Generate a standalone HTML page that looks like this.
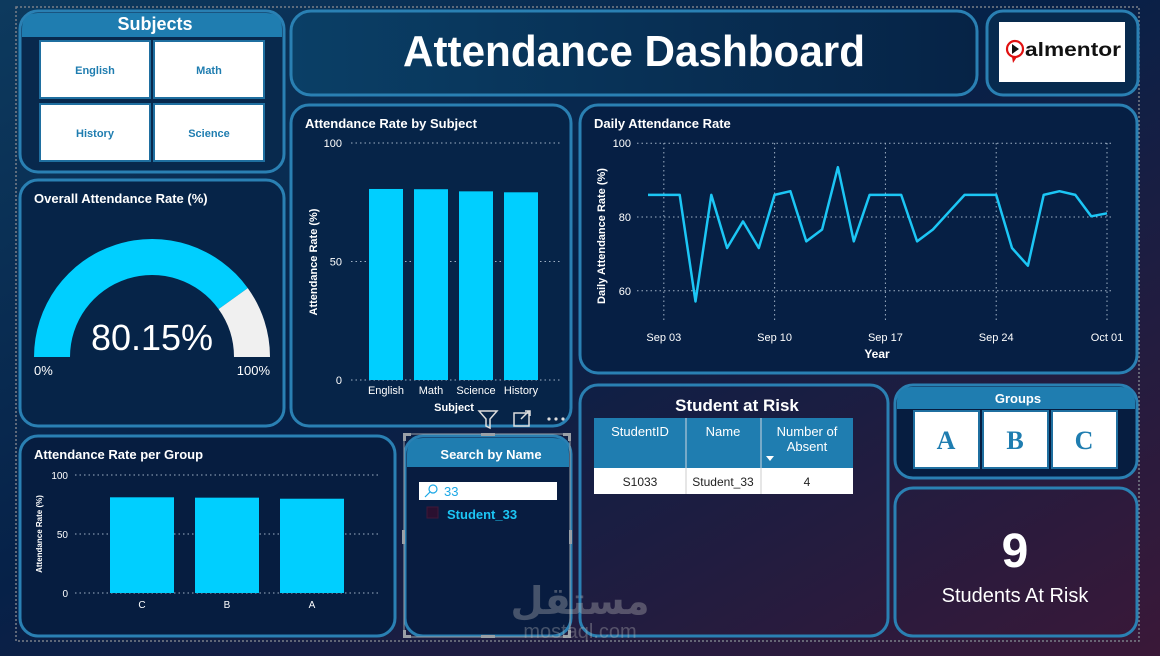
<!DOCTYPE html>
<html><head><meta charset="utf-8">
<style>
html,body{margin:0;padding:0;width:1160px;height:656px;overflow:hidden;background:#0b2545;}
svg{display:block;font-family:"Liberation Sans","DejaVu Sans",sans-serif;}
</style></head>
<body>
<svg id="dash" width="1160" height="656" viewBox="0 0 1160 656" xmlns="http://www.w3.org/2000/svg">
<defs>
<linearGradient id="bg" x1="0" y1="0" x2="1" y2="1">
<stop offset="0" stop-color="#0d3a5e"/><stop offset="0.45" stop-color="#062148"/><stop offset="1" stop-color="#3a1838"/>
</linearGradient>
<linearGradient id="title-bg" x1="0" y1="0" x2="1" y2="0">
<stop offset="0" stop-color="#0a3f66"/><stop offset="1" stop-color="#062346"/>
</linearGradient>
</defs>
<rect width="1160" height="656" fill="url(#bg)"/>
<rect x="16" y="7" width="1123" height="634" fill="none" stroke="#7a7f88" stroke-width="1.5" stroke-dasharray="2,2"/>

<!-- Subjects slicer -->
<g>
<rect x="20" y="11" width="264" height="161" rx="18" fill="#08294d" stroke="#2a80b3" stroke-width="3"/>
<path d="M22 37 V29 Q22 13 38 13 H266 Q282 13 282 29 V37 Z" fill="#1f7db0"/>
<text x="155" y="30" fill="#fff" font-size="18" font-weight="bold" text-anchor="middle">Subjects</text>
<g><rect x="40" y="41" width="110" height="57" fill="#fff" stroke="#1f6fa0" stroke-width="2"/><text x="95" y="74" fill="#1f7db0" font-size="11" font-weight="bold" text-anchor="middle">English</text></g>
<g><rect x="154" y="41" width="110" height="57" fill="#fff" stroke="#1f6fa0" stroke-width="2"/><text x="209" y="74" fill="#1f7db0" font-size="11" font-weight="bold" text-anchor="middle">Math</text></g>
<g><rect x="40" y="104" width="110" height="57" fill="#fff" stroke="#1f6fa0" stroke-width="2"/><text x="95" y="137" fill="#1f7db0" font-size="11" font-weight="bold" text-anchor="middle">History</text></g>
<g><rect x="154" y="104" width="110" height="57" fill="#fff" stroke="#1f6fa0" stroke-width="2"/><text x="209" y="137" fill="#1f7db0" font-size="11" font-weight="bold" text-anchor="middle">Science</text></g>
</g>

<!-- Title -->
<g>
<rect x="291" y="11" width="686" height="84" rx="20" fill="url(#title-bg)" stroke="#2a80b3" stroke-width="3"/>
<text x="634" y="66" fill="#fff" font-size="44" font-weight="bold" text-anchor="middle" textLength="462" lengthAdjust="spacingAndGlyphs">Attendance Dashboard</text>
</g>

<!-- Logo -->
<g>
<rect x="987" y="11" width="151" height="84" rx="16" fill="#072a4e" stroke="#2a80b3" stroke-width="3"/>
<rect x="999" y="22" width="126" height="60" fill="#fff"/>
<circle cx="1015" cy="49" r="8" fill="none" stroke="#e01010" stroke-width="2.2"/>
<path d="M1012 57 L1013 63 L1017 57 Z" fill="#e01010"/>
<path d="M1012 44 L1019 49 L1012 54 Z" fill="#111"/>
<text x="1025" y="56" fill="#111" font-size="19" font-weight="bold" textLength="96" lengthAdjust="spacingAndGlyphs">almentor</text>
</g>

<!-- Gauge -->
<g>
<rect x="20" y="180" width="264" height="246" rx="18" fill="#062448" stroke="#2a80b3" stroke-width="3"/>
<text x="34" y="203" fill="#fff" font-size="13" font-weight="bold">Overall Attendance Rate (%)</text>
<g id="gauge"></g>
<text x="34" y="375" fill="#fff" font-size="13">0%</text>
<text x="270" y="375" fill="#fff" font-size="13" text-anchor="end">100%</text>
</g>

<!-- Subject bar chart -->
<g>
<rect x="291" y="105" width="280" height="321" rx="18" fill="#062448" stroke="#2a80b3" stroke-width="3"/>
<text x="305" y="128" fill="#fff" font-size="13" font-weight="bold">Attendance Rate by Subject</text>
<g id="subj"></g>
<text transform="translate(317,262) rotate(-90)" fill="#fff" font-size="11" font-weight="bold" text-anchor="middle">Attendance Rate (%)</text>
<text x="454" y="411" fill="#fff" font-size="11" font-weight="bold" text-anchor="middle">Subject</text>
<g><path d="M479 411 H497 L490 419 V428 L486 426 V419 Z" fill="none" stroke="#ddd" stroke-width="1.5"/></g>
<g><rect x="514" y="413" width="15" height="13" fill="none" stroke="#ddd" stroke-width="1.5"/><path d="M521 419 L529 411 M525 411 H530 V416" fill="none" stroke="#ddd" stroke-width="1.5"/></g>
<g><circle cx="549" cy="419" r="1.6" fill="#ddd"/><circle cx="556" cy="419" r="1.6" fill="#ddd"/><circle cx="563" cy="419" r="1.6" fill="#ddd"/></g>
</g>

<!-- Daily line chart -->
<g>
<rect x="580" y="105" width="557" height="268" rx="18" fill="#061f44" stroke="#2a80b3" stroke-width="3"/>
<text x="594" y="128" fill="#fff" font-size="13" font-weight="bold">Daily Attendance Rate</text>
<g id="daily"></g>
<text transform="translate(605,236) rotate(-90)" fill="#fff" font-size="11" font-weight="bold" text-anchor="middle">Daily Attendance Rate (%)</text>
<text x="877" y="358" fill="#fff" font-size="12" font-weight="bold" text-anchor="middle">Year</text>
</g>

<!-- Group bar chart -->
<g>
<rect x="20" y="436" width="375" height="200" rx="18" fill="#061d40" stroke="#2a80b3" stroke-width="3"/>
<text x="34" y="459" fill="#fff" font-size="13" font-weight="bold">Attendance Rate per Group</text>
<g id="grp"></g>
<text transform="translate(42,534) rotate(-90)" fill="#fff" font-size="8" font-weight="bold" text-anchor="middle">Attendance Rate (%)</text>
</g>

<!-- Search slicer -->
<g>
<rect x="405" y="436" width="166" height="200" rx="18" fill="#081c40" stroke="#2a80b3" stroke-width="3"/>
<path d="M407 467 V454 Q407 438 423 438 H553 Q569 438 569 454 V467 Z" fill="#1f7db0"/>
<text x="491" y="459" fill="#fff" font-size="13" font-weight="bold" text-anchor="middle">Search by Name</text>
<g>
<rect x="419" y="482" width="138" height="18" fill="#fff"/>
<circle cx="433" cy="489" r="4" fill="none" stroke="#1aa7e6" stroke-width="1.2"/><path d="M430 492 L425 497" stroke="#1aa7e6" stroke-width="1.2"/>
<text x="444" y="496" fill="#1aa7e6" font-size="13">33</text>
</g>
<g>
<rect x="427" y="507" width="11" height="11" fill="#2a1030" stroke="#401838"/>
<text x="447" y="519" fill="#1cc6f5" font-size="13" font-weight="bold">Student_33</text>
</g>
<g fill="#9aa0a6">
<rect x="403" y="433" width="3" height="8"/><rect x="403" y="433" width="8" height="3"/>
<rect x="568" y="433" width="3" height="8"/><rect x="563" y="433" width="8" height="3"/>
<rect x="403" y="630" width="3" height="8"/><rect x="403" y="635" width="8" height="3"/>
<rect x="568" y="630" width="3" height="8"/><rect x="563" y="635" width="8" height="3"/>
<rect x="481" y="433" width="14" height="3"/><rect x="481" y="635" width="14" height="3"/>
<rect x="402" y="530" width="3" height="14"/><rect x="569" y="530" width="3" height="14"/>
<path d="M404 434 H570 V637 H404 Z" fill="none" stroke="#9aa0a6" stroke-width="1"/>
</g>
</g>

<!-- Student at risk table -->
<g>
<rect x="580" y="385" width="308" height="251" rx="18" fill="none" stroke="#2a80b3" stroke-width="3"/>
<text x="737" y="411" fill="#fff" font-size="17" font-weight="bold" text-anchor="middle">Student at Risk</text>
<rect x="594" y="418" width="259" height="50" fill="#1f7db0"/>
<line x1="686" y1="418" x2="686" y2="494" stroke="#cfd8e0"/><line x1="761" y1="418" x2="761" y2="494" stroke="#cfd8e0"/>
<text x="640" y="436" fill="#fff" font-size="13" text-anchor="middle">StudentID</text>
<text x="723" y="436" fill="#fff" font-size="13" text-anchor="middle">Name</text>
<g><text x="807" y="436" fill="#fff" font-size="13" text-anchor="middle">Number of</text><text x="807" y="451" fill="#fff" font-size="13" text-anchor="middle">Absent</text><path d="M766 456 H774 L770 461 Z" fill="#fff"/></g>
<rect x="594" y="468" width="259" height="26" fill="#fff"/>
<line x1="686" y1="468" x2="686" y2="494" stroke="#ccc"/><line x1="761" y1="468" x2="761" y2="494" stroke="#ccc"/>
<text x="640" y="486" fill="#222" font-size="12" text-anchor="middle">S1033</text>
<text x="723" y="486" fill="#222" font-size="12" text-anchor="middle">Student_33</text>
<text x="807" y="486" fill="#222" font-size="12" text-anchor="middle">4</text>
</g>

<!-- Groups slicer -->
<g>
<rect x="895" y="385" width="242" height="93" rx="18" fill="#061d40" stroke="#2a80b3" stroke-width="3"/>
<path d="M897 409 V401 Q897 387 911 387 H1121 Q1135 387 1135 401 V409 Z" fill="#1f7db0"/>
<text x="1018" y="403" fill="#fff" font-size="13" font-weight="bold" text-anchor="middle">Groups</text>
<g><rect x="914" y="411" width="65" height="57" fill="#fff" stroke="#1f6fa0" stroke-width="2"/><text x="946" y="449" fill="#1f7db0" font-size="26" font-weight="bold" text-anchor="middle" font-family="Liberation Serif,serif">A</text></g>
<g><rect x="983" y="411" width="65" height="57" fill="#fff" stroke="#1f6fa0" stroke-width="2"/><text x="1015" y="449" fill="#1f7db0" font-size="26" font-weight="bold" text-anchor="middle" font-family="Liberation Serif,serif">B</text></g>
<g><rect x="1052" y="411" width="65" height="57" fill="#fff" stroke="#1f6fa0" stroke-width="2"/><text x="1084" y="449" fill="#1f7db0" font-size="26" font-weight="bold" text-anchor="middle" font-family="Liberation Serif,serif">C</text></g>
</g>

<!-- KPI -->
<g>
<rect x="895" y="488" width="242" height="148" rx="18" fill="none" stroke="#2a80b3" stroke-width="3"/>
<text x="1015" y="567" fill="#fff" font-size="48" font-weight="bold" text-anchor="middle">9</text>
<text x="1015" y="602" fill="#fff" font-size="20" text-anchor="middle">Students At Risk</text>
</g>

<!-- Watermark -->
<g opacity="0.35">
<text x="580" y="614" fill="#bbb" font-size="38" font-weight="bold" text-anchor="middle">مستقل</text>
<text x="580" y="638" fill="#bbb" font-size="20" text-anchor="middle">mostaql.com</text>
</g>
</svg>

<script>
// ---- data ----
const gaugeValue = 80.15;
const subjectCategories = ["English","Math","Science","History"];
const subjectValues = [80.6, 80.5, 79.6, 79.2];
const subjectTicks = [0, 50, 100];
const groupCategories = ["C","B","A"];
const groupValues = [81.1, 80.8, 79.9];
const groupTicks = [0, 50, 100];
const dailyDays = ["Sep 02","Sep 03","Sep 04","Sep 05","Sep 06","Sep 07","Sep 08","Sep 09","Sep 10","Sep 11","Sep 12","Sep 13","Sep 14","Sep 15","Sep 16","Sep 17","Sep 18","Sep 19","Sep 20","Sep 21","Sep 22","Sep 23","Sep 24","Sep 25","Sep 26","Sep 27","Sep 28","Sep 29","Sep 30","Oct 01"];
const dailyValues = [86,86,86,57.1,86,71.6,78.8,71.6,86,87,73.4,76.6,93.5,73.4,86,86,86,73.4,76.6,81.3,86,86,86,71.6,66.8,86,87,86,80.2,81];
const dailyTicks = [60, 80, 100];
const dailyTickLabels = ["Sep 03","Sep 10","Sep 17","Sep 24","Oct 01"];

const NS = "http://www.w3.org/2000/svg";
function mk(tag, attrs, parent){const e=document.createElementNS(NS,tag);for(const k in attrs)e.setAttribute(k,attrs[k]);parent.appendChild(e);return e;}

// ---- gauge ----
(function(){
  const g=document.getElementById('gauge');
  const cx=152, cy=357, R=118, r=82;
  function pt(frac,rad){const a=Math.PI*(1-frac);return [cx+rad*Math.cos(a), cy-rad*Math.sin(a)];}
  function arc(f0,f1,col,name){
    const [x0,y0]=pt(f0,R),[x1,y1]=pt(f1,R),[x2,y2]=pt(f1,r),[x3,y3]=pt(f0,r);
    const p=mk('path',{d:`M${x0} ${y0} A${R} ${R} 0 0 1 ${x1} ${y1} L${x2} ${y2} A${r} ${r} 0 0 0 ${x3} ${y3} Z`,fill:col},g);
    
    
  }
  const f=gaugeValue/100;
  arc(0,f,'#00cfff','gauge-value-arc');
  arc(f,1,'#f0f0f0','gauge-remaining-arc');
  const t=mk('text',{x:cx,y:350,fill:'#fff','font-size':'36','text-anchor':'middle'},g);
  t.textContent=gaugeValue.toFixed(2)+'%';
  
  
})();

// ---- bar chart helper ----
function barChart(gid, cats, vals, ticks, o){
  const g=document.getElementById(gid);
  const y=v=>o.y0-(v/100)*(o.y0-o.y100);
  ticks.forEach(tv=>{
    const l=mk('line',{x1:o.gx0,x2:o.gx1,y1:y(tv),y2:y(tv),stroke:'#9fb0c4','stroke-width':1,'stroke-dasharray':'1.5,3'},g);
    
    
    const t=mk('text',{x:o.tx,y:y(tv)+4,fill:'#fff','font-size':o.fs,'text-anchor':'end'},g);
    t.textContent=tv;
    
    
  });
  cats.forEach((c,i)=>{
    const cxm=o.c0+i*o.step;
    const x=cxm-o.bw/2;
    const b=mk('rect',{x:x,y:y(vals[i]),width:o.bw,height:y(0)-y(vals[i]),fill:'#00cfff'},g);
    
    
    const t=mk('text',{x:cxm,y:o.y0+o.ly,fill:'#fff','font-size':o.fs,'text-anchor':'middle'},g);
    t.textContent=c;
    
    
  });
}
barChart('subj',subjectCategories,subjectValues,subjectTicks,{y0:380,y100:143,gx0:351,gx1:560,c0:386,step:45,bw:34,tx:342,fs:11,ly:14});
barChart('grp',groupCategories,groupValues,groupTicks,{y0:593,y100:475,gx0:75,gx1:380,c0:142,step:85,bw:64,tx:68,fs:10,ly:15});

// ---- daily line ----
(function(){
  const g=document.getElementById('daily');
  const x0=648, dx=(1107-648)/29;
  const x=i=>x0+i*dx;
  const y=v=>217-(v-80)*3.69;
  dailyTicks.forEach(tv=>{
    const l=mk('line',{x1:637,x2:1113,y1:y(tv),y2:y(tv),stroke:'#9fb0c4','stroke-width':1,'stroke-dasharray':'1.5,3'},g);
    
    
    const t=mk('text',{x:631,y:y(tv)+4,fill:'#fff','font-size':11,'text-anchor':'end'},g);
    t.textContent=tv;
    
    
  });
  dailyTickLabels.forEach(lab=>{
    const i=dailyDays.indexOf(lab);
    const l=mk('line',{x1:x(i),x2:x(i),y1:143,y2:320,stroke:'#9fb0c4','stroke-width':1,'stroke-dasharray':'1.5,3'},g);
    
    
    const t=mk('text',{x:x(i),y:341,fill:'#fff','font-size':11,'text-anchor':'middle'},g);
    t.textContent=lab;
    
    
  });
  const pts=dailyValues.map((v,i)=>x(i).toFixed(1)+','+y(v).toFixed(1)).join(' ');
  const pl=mk('polyline',{points:pts,fill:'none',stroke:'#1cc6f5','stroke-width':2.5,'stroke-linejoin':'round'},g);
  
  
})();
</script>
</body></html>
